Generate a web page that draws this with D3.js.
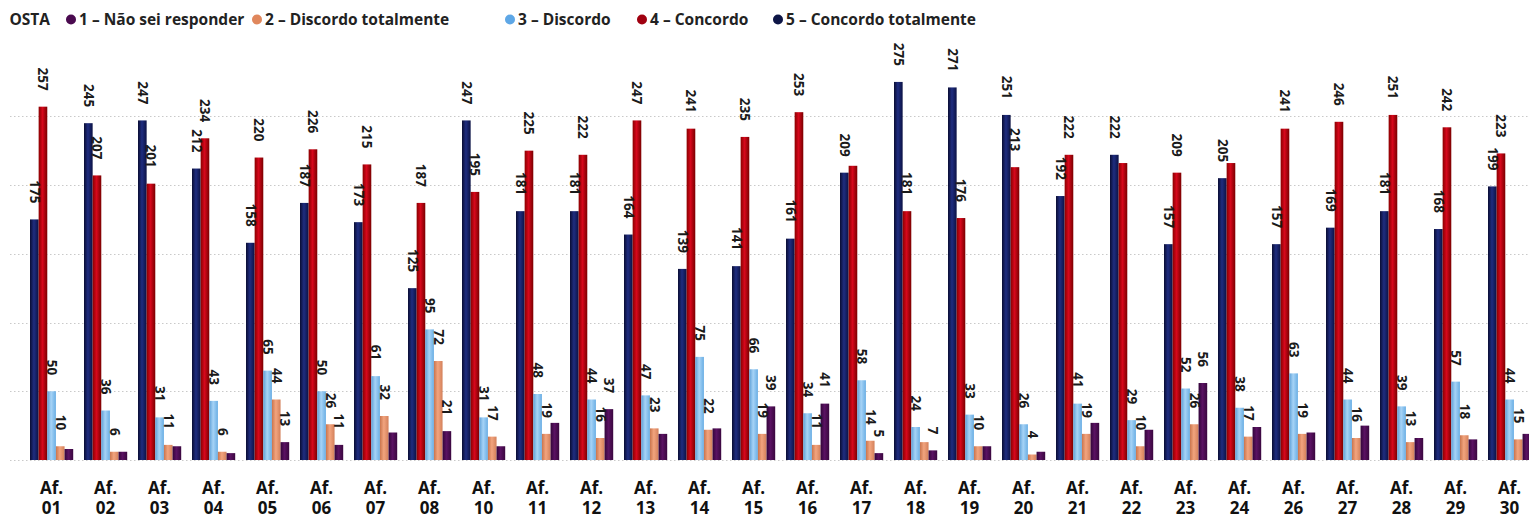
<!DOCTYPE html>
<html>
<head>
<meta charset="utf-8">
<script src="https://cdn.jsdelivr.net/npm/d3@7"></script>
<style>
  body { margin: 0; background: #fff; }
  svg { display: block; font-family: "Open Sans", sans-serif; }
</style>
</head>
<body>
<div id="chart"></div>
<script>
// statements (Af.) on the x axis
const groups = ["01","02","03","04","05","06","07","08","10","11","12","13","14","15",
                "16","17","18","19","20","21","22","23","24","26","27","28","29","30"];

// answers per statement
const naoSei      = [8,6,10,5,13,11,20,21,10,27,37,19,23,39,41,5,7,10,6,27,22,56,24,20,25,16,15,19];
const discTotal   = [10,6,11,6,44,26,32,72,17,19,16,23,22,19,11,14,13,10,4,19,10,26,17,19,16,13,18,15];
const discordo    = [50,36,31,43,65,50,61,95,31,48,44,47,75,66,34,58,24,33,26,41,29,52,38,63,44,39,57,44];
const concordo    = [257,207,201,234,220,226,215,187,195,225,222,247,241,235,253,214,181,176,213,222,216,209,216,241,246,251,242,223];
const concTotal   = [175,245,247,212,158,187,173,125,247,181,181,164,139,141,161,209,275,271,251,192,222,157,205,157,169,181,168,199];

const legendNames = ["1 – Não sei responder", "2 – Discordo totalmente", "3 – Discordo",
                     "4 – Concordo", "5 – Concordo totalmente"];
const yTicks = [0, 50, 100, 150, 200, 250];

var width = 1529, height = 519;

// bars drawn left to right: 5, 4, 3, 2, 1
var series = [
  {key: "s5", values: concTotal, stops: ["#0a0d33", "#1f2d80", "#0b1244"]},
  {key: "s4", values: concordo,  stops: ["#8a0000", "#d6081c", "#7a0000"]},
  {key: "s3", values: discordo,  stops: ["#5d9fd6", "#a6d3f6", "#6aaee4"]},
  {key: "s2", values: discTotal, stops: ["#c9744c", "#f2a47e", "#d3805a"]},
  {key: "s1", values: naoSei,    stops: ["#33053a", "#5a1262", "#3a073f"]}
];
var legendColors = ["#4a0a4f", "#e0875c", "#5ea7e6", "#a00010", "#0d1546"];
var legendX = [71, 257, 510, 642, 778];

var svg = d3.select("#chart")
  .append("svg")
    .attr("width", width)
    .attr("height", height);

var defs = svg.append("defs");
series.forEach(function(s) {
  var g = defs.append("linearGradient")
    .attr("id", "grad_" + s.key)
    .attr("x1", 0).attr("x2", 1).attr("y1", 0).attr("y2", 0);
  g.append("stop").attr("offset", "0%").attr("stop-color", s.stops[0]);
  g.append("stop").attr("offset", "45%").attr("stop-color", s.stops[1]);
  g.append("stop").attr("offset", "100%").attr("stop-color", s.stops[2]);
});

var x = d3.scaleBand()
  .domain(groups)
  .range([24.6, 1536.6])
  .paddingInner(0.2)
  .paddingOuter(0.1);

var xs = d3.scaleBand()
  .domain(series.map(function(s) { return s.key; }))
  .range([0, x.bandwidth()]);

var y = d3.scaleLinear()
  .domain([0, 250])
  .range([460, 116.3]);

// dotted gridlines
svg.append("g")
  .selectAll("line")
  .data(yTicks)
  .enter()
  .append("line")
    .attr("x1", 10)
    .attr("x2", width)
    .attr("y1", function(d) { return Math.round(y(d)) + 0.5; })
    .attr("y2", function(d) { return Math.round(y(d)) + 0.5; })
    .attr("stroke", "#c9c9c9")
    .attr("stroke-width", 1)
    .attr("stroke-dasharray", "1.5,2.5");

// bars
var groupG = svg.append("g")
  .selectAll("g")
  .data(groups)
  .enter()
  .append("g")
    .attr("transform", function(d) { return "translate(" + x(d) + ",0)"; });

groupG.selectAll("rect")
  .data(function(d, i) {
    return series.map(function(s) { return {key: s.key, value: s.values[i]}; });
  })
  .enter()
  .append("rect")
    .attr("x", function(d) { return xs(d.key); })
    .attr("y", function(d) { return y(d.value); })
    .attr("width", xs.bandwidth())
    .attr("height", function(d) { return y(0) - y(d.value); })
    .attr("fill", function(d) { return "url(#grad_" + d.key + ")"; });

// data labels, rotated, hidden when they collide with an earlier one
var labelG = svg.append("g");
var placed = [];
var gap = 16, pad = 3;
groups.forEach(function(gname, i) {
  series.forEach(function(s) {
    var v = s.values[i];
    var cx = x(gname) + xs(s.key) + xs.bandwidth() / 2;
    var yEnd = y(v) - gap;
    var t = labelG.append("text")
      .attr("transform", "translate(" + cx + "," + yEnd + ") rotate(90)")
      .attr("text-anchor", "end")
      .attr("dy", "0.35em")
      .style("font-size", "13.5px")
      .style("font-weight", "bold")
      .attr("fill", "#1a1a1a")
      .text(v);
    var len = t.node().getComputedTextLength();
    var box = {x0: cx - 5, x1: cx + 5, y0: yEnd - len, y1: yEnd};
    var hit = placed.some(function(b) {
      return box.x0 < b.x1 && box.x1 > b.x0 &&
             box.y0 < b.y1 + pad && box.y1 + pad > b.y0;
    });
    if (hit) {
      t.remove();
    } else {
      placed.push(box);
    }
  });
});

// x axis labels
var xl = svg.append("g")
  .selectAll("text")
  .data(groups)
  .enter()
  .append("text")
    .attr("text-anchor", "middle")
    .style("font-size", "17px")
    .style("font-weight", "bold")
    .attr("fill", "#111");
xl.append("tspan")
  .attr("x", function(d) { return x(d) + x.bandwidth() / 2; })
  .attr("y", 494)
  .text("Af.");
xl.append("tspan")
  .attr("x", function(d) { return x(d) + x.bandwidth() / 2; })
  .attr("y", 514)
  .text(function(d) { return d; });

// legend (title is cropped in the source, only its tail shows)
var legend = svg.append("g").style("font-size", "15.5px").style("font-weight", "bold");
legend.append("text")
  .attr("x", 50)
  .attr("y", 25)
  .attr("text-anchor", "end")
  .attr("fill", "#222")
  .text("OSTA");

legendNames.forEach(function(name, i) {
  legend.append("circle")
    .attr("cx", legendX[i])
    .attr("cy", 19.5)
    .attr("r", 5)
    .attr("fill", legendColors[i]);
  legend.append("text")
    .attr("x", legendX[i] + 8)
    .attr("y", 25)
    .attr("fill", "#222")
    .text(name);
});
</script>
</body>
</html>
